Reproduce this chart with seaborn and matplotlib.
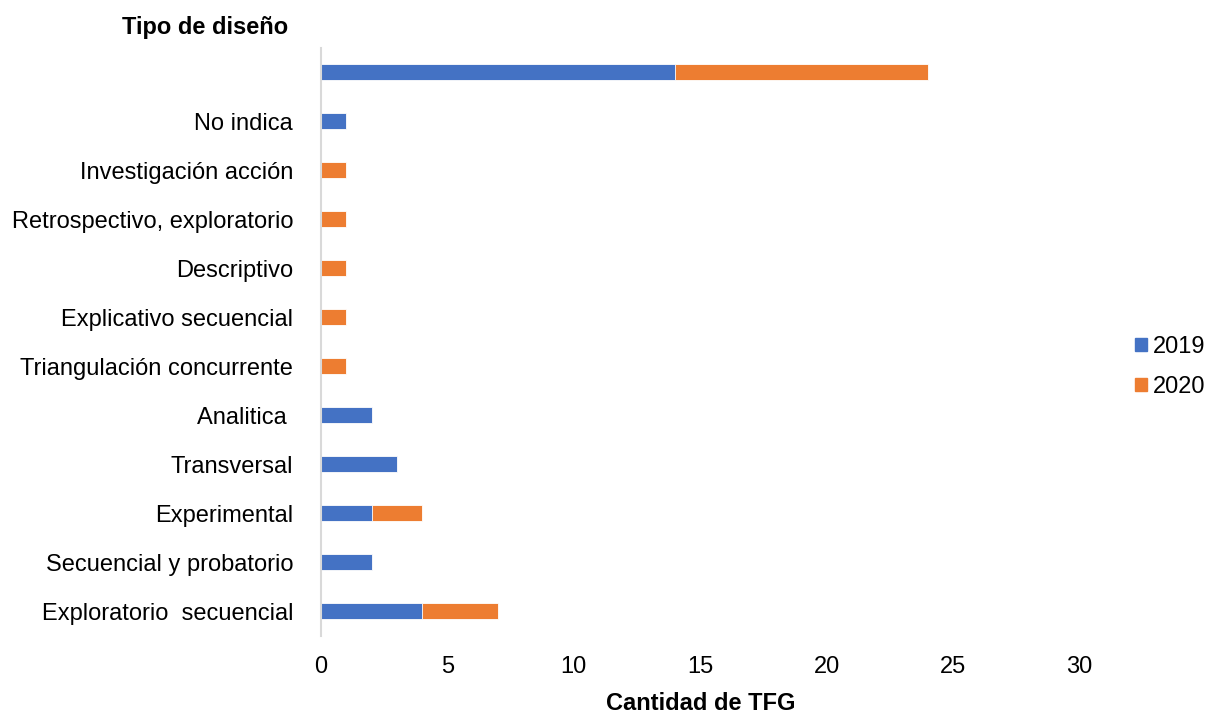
import pandas as pd
import seaborn as sns
import matplotlib.pyplot as plt
from matplotlib.patches import Patch

# --- Data
categories = [' ', 'No indica', 'Investigación acción', 'Retrospectivo, exploratorio',
              'Descriptivo', 'Explicativo secuencial', 'Triangulación concurrente',
              'Analitica ', 'Transversal', 'Experimental', 'Secuencial y probatorio',
              'Exploratorio  secuencial']
v2019 = [14, 1, 0, 0, 0, 0, 0, 2, 3, 2, 2, 4]
v2020 = [10, 0, 1, 1, 1, 1, 1, 0, 0, 2, 0, 3]
years = ['2019', '2020']

blue = '#4472c4'
orange = '#ed7d31'

df = pd.DataFrame({'tipo': categories, '2019': v2019, '2020': v2020})
df['total'] = df['2019'] + df['2020']

sns.set_style('white')
plt.rcParams['font.family'] = ['Liberation Sans', 'DejaVu Sans']
plt.rcParams['text.color'] = 'black'
plt.rcParams['axes.labelcolor'] = 'black'
plt.rcParams['xtick.color'] = 'black'
plt.rcParams['ytick.color'] = 'black'

fig = plt.figure(figsize=(12.09, 7.15), dpi=100)
ax = fig.add_axes([0.2655, 0.111, 0.6275, 0.822])

# stacked look: total in orange, 2019 drawn over it in blue
sns.barplot(data=df, y='tipo', x='total', order=categories, color=orange,
            width=0.33, saturation=1, linewidth=0.6, ax=ax)
sns.barplot(data=df, y='tipo', x='2019', order=categories, color=blue,
            width=0.33, saturation=1, linewidth=0.6, ax=ax)

ax.set_xlim(0, 30)
ax.set_ylim(11.5, -0.5)
ax.set_xticks(range(0, 31, 5))
ax.tick_params(axis='both', length=0, labelsize=17)
ax.tick_params(axis='y', pad=20)
ax.tick_params(axis='x', pad=15)
ax.set_ylabel('')
ax.set_xlabel('Cantidad de TFG', fontsize=17, fontweight='bold', labelpad=10)

for s in ['top', 'right', 'bottom']:
    ax.spines[s].set_visible(False)
ax.spines['left'].set_color('#d9d9d9')
ax.spines['left'].set_linewidth(1.5)

fig.text(0.1695, 0.962, 'Tipo de diseño', ha='center', va='center',
         fontsize=17, fontweight='bold')

handles = [Patch(color=blue, label=years[0]), Patch(color=orange, label=years[1])]
fig.legend(handles=handles, loc='center left', bbox_to_anchor=(0.939, 0.487),
           frameon=False, fontsize=17, handlelength=0.5, handleheight=0.5,
           handletextpad=0.25, labelspacing=0.75, borderaxespad=0, borderpad=0)

fig.savefig('out.png', dpi=100)
